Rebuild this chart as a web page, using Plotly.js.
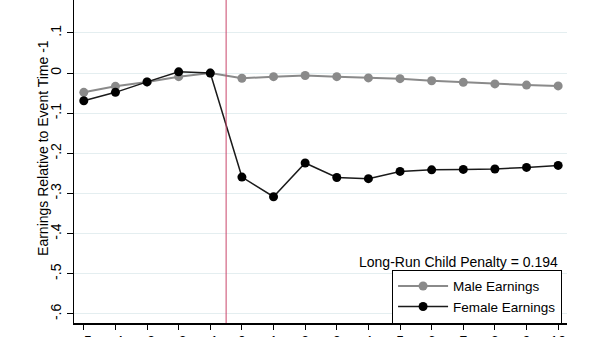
<!DOCTYPE html>
<html>
<head>
<meta charset="utf-8">
<script src="https://cdn.plot.ly/plotly-3.0.1.min.js"></script>
<style>html,body{margin:0;padding:0;background:#fff;}#chart{width:600px;height:337px;}</style>
</head>
<body>
<div id="chart"></div>
<script>
const eventTime = [-5,-4,-3,-2,-1,0,1,2,3,4,5,6,7,8,9,10];
const maleEarnings = [-0.048,-0.033,-0.022,-0.009,0,-0.013,-0.009,-0.006,-0.009,-0.012,-0.014,-0.019,-0.023,-0.027,-0.030,-0.032];
const femaleEarnings = [-0.069,-0.048,-0.022,0.003,0,-0.259,-0.308,-0.224,-0.260,-0.263,-0.245,-0.241,-0.240,-0.239,-0.235,-0.230];
const yTickVals = [0.1,0,-0.1,-0.2,-0.3,-0.4,-0.5,-0.6];
const yTickText = ['.1','0','-.1','-.2','-.3','-.4','-.5','-.6'];
const yTitle = 'Earnings Relative to Event Time -1';
const penaltyText = 'Long-Run Child Penalty = 0.194';
const eventLine = -0.5;

const font = {family: 'Liberation Sans, Arial, sans-serif', size: 14, color: '#000'};
const legendFont = {family: 'Liberation Sans, Arial, sans-serif', size: 13.5, color: '#000'};

const traces = [
  {x: eventTime, y: maleEarnings, name: 'Male Earnings', mode: 'lines+markers',
   line: {color: '#8a8a8a', width: 2}, marker: {color: '#8a8a8a', size: 9}},
  {x: eventTime, y: femaleEarnings, name: 'Female Earnings', mode: 'lines+markers',
   line: {color: '#1a1a1a', width: 1.5}, marker: {color: '#000', size: 9}}
];

const layout = {
  width: 600, height: 337,
  margin: {l: 74, r: 33, t: 0, b: 14},
  paper_bgcolor: '#fff', plot_bgcolor: '#fff',
  font: font,
  showlegend: true,
  legend: {x: 0.99, xanchor: 'right', y: 0.165, yanchor: 'top',
           bordercolor: '#000', borderwidth: 1, bgcolor: '#fff',
           font: legendFont, itemwidth: 50, tracegroupgap: 0},
  xaxis: {range: [-5.31, 10.28], tickvals: eventTime, ticks: 'outside', ticklen: 5,
          tickcolor: '#000', showline: true, linecolor: '#000', linewidth: 1.5,
          showgrid: false, zeroline: false, automargin: false, tickfont: font},
  yaxis: {range: [-0.6225, 0.182], tickvals: yTickVals, ticktext: yTickText,
          ticks: 'outside', ticklen: 6, tickcolor: '#000', tickangle: -90,
          showline: true, linecolor: '#000', linewidth: 1.5,
          showgrid: true, gridcolor: '#e4eef0', gridwidth: 1, zeroline: false,
          automargin: false, tickfont: font},
  shapes: [{type: 'line', xref: 'x', yref: 'paper', x0: eventLine, x1: eventLine, y0: 0, y1: 1,
            line: {color: '#c9466a', width: 1}}],
  annotations: [
    {text: penaltyText, xref: 'paper', yref: 'paper', x: 0.986, y: 0.19,
     xanchor: 'right', yanchor: 'middle', showarrow: false, font: font},
    {text: yTitle, xref: 'paper', yref: 'paper', x: -0.0629, y: 0.542, textangle: -90,
     xanchor: 'center', yanchor: 'middle', showarrow: false, font: font}
  ]
};

Plotly.newPlot('chart', traces, layout, {displayModeBar: false, staticPlot: true});
</script>
</body>
</html>
